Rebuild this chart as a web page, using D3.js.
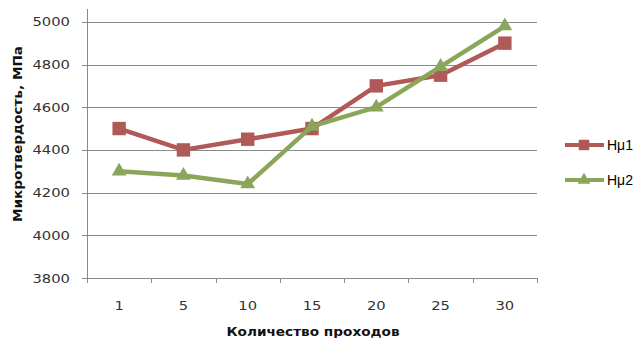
<!DOCTYPE html>
<html>
<head>
<meta charset="utf-8">
<script src="https://cdn.jsdelivr.net/npm/d3@7"></script>
<style>
  html, body { margin: 0; padding: 0; background: #fff; }
  svg { display: block; }
</style>
</head>
<body>
<svg id="chart" width="639" height="338"></svg>
<script>
// Microhardness vs. number of passes
const passes = ["1", "5", "10", "15", "20", "25", "30"];
const hmu1 = [4500, 4400, 4450, 4500, 4700, 4750, 4900];
const hmu2 = [4300, 4280, 4240, 4510, 4600, 4790, 4980];
const yTicks = [3800, 4000, 4200, 4400, 4600, 4800, 5000];
const seriesNames = ["Hμ1", "Hμ2"];
const seriesColors = ["#b05a58", "#8aa65a"];

const svg = d3.select("#chart");
const plotLeft = 87, plotRight = 537, plotTop = 9, plotBottom = 278;
const tickFont = "DejaVu Sans, Verdana, sans-serif";
const wide = 1.18; // horizontal stretch of axis texts

const x = d3.scaleBand().domain(passes).range([plotLeft, plotRight]).padding(0);
const y = d3.scaleLinear().domain([3800, 5060]).range([plotBottom, plotTop]);

// horizontal gridlines
svg.append("g")
  .selectAll("line")
  .data(yTicks)
  .join("line")
  .attr("x1", plotLeft - 5).attr("x2", plotRight)
  .attr("y1", d => Math.round(y(d)) + 0.5).attr("y2", d => Math.round(y(d)) + 0.5)
  .attr("stroke", "#8a8a8a").attr("stroke-width", 1);

// y axis line
svg.append("line")
  .attr("x1", plotLeft + 0.5).attr("x2", plotLeft + 0.5)
  .attr("y1", plotTop).attr("y2", plotBottom + 5)
  .attr("stroke", "#8a8a8a");

// x tick marks at band boundaries
const bounds = passes.map(p => x(p)).concat([plotRight]);
svg.append("g")
  .selectAll("line")
  .data(bounds)
  .join("line")
  .attr("x1", d => Math.round(d) + 0.5).attr("x2", d => Math.round(d) + 0.5)
  .attr("y1", plotBottom).attr("y2", plotBottom + 5)
  .attr("stroke", "#8a8a8a");

// y tick labels
svg.append("g")
  .selectAll("text")
  .data(yTicks)
  .join("text")
  .attr("transform", d => `translate(${plotLeft - 17},${y(d)}) scale(${wide},1)`)
  .attr("dy", "0.36em")
  .attr("text-anchor", "end")
  .attr("font-family", tickFont)
  .attr("font-size", 12.5)
  .attr("fill", "#333")
  .text(d => d);

// x tick labels
svg.append("g")
  .selectAll("text")
  .data(passes)
  .join("text")
  .attr("transform", d => `translate(${x(d) + x.bandwidth() / 2},310) scale(${wide},1)`)
  .attr("text-anchor", "middle")
  .attr("font-family", tickFont)
  .attr("font-size", 12.5)
  .attr("fill", "#333")
  .text(d => d);

// axis titles
svg.append("text")
  .attr("transform", `translate(313,336) scale(1.05,1)`)
  .attr("text-anchor", "middle")
  .attr("font-family", tickFont)
  .attr("font-weight", "bold")
  .attr("font-size", 13)
  .attr("fill", "#111")
  .text("Количество проходов");

svg.append("text")
  .attr("transform", "translate(22,134) rotate(-90) scale(1.05,1)")
  .attr("text-anchor", "middle")
  .attr("font-family", tickFont)
  .attr("font-weight", "bold")
  .attr("font-size", 13)
  .attr("fill", "#111")
  .text("Микротвердость, МПа");

const line = d3.line()
  .x((d, i) => x(passes[i]) + x.bandwidth() / 2)
  .y(d => y(d));

const square = d3.symbol().type(d3.symbolSquare).size(180);
const triangle = d3.symbol().type(d3.symbolTriangle).size(95);

const series = [
  { name: seriesNames[0], values: hmu1, color: seriesColors[0], sym: square },
  { name: seriesNames[1], values: hmu2, color: seriesColors[1], sym: triangle }
];

series.forEach(s => {
  svg.append("path")
    .attr("d", line(s.values))
    .attr("fill", "none")
    .attr("stroke", s.color)
    .attr("stroke-width", 4.5)
    .attr("stroke-linejoin", "round");
  svg.append("g")
    .selectAll("path")
    .data(s.values)
    .join("path")
    .attr("transform", (d, i) => `translate(${x(passes[i]) + x.bandwidth() / 2},${y(d)})`)
    .attr("d", s.sym())
    .attr("fill", s.color);
});

// legend
const legend = svg.append("g");
series.forEach((s, i) => {
  const ly = 145 + i * 35;
  legend.append("line")
    .attr("x1", 565).attr("x2", 604)
    .attr("y1", ly).attr("y2", ly)
    .attr("stroke", s.color).attr("stroke-width", 4);
  legend.append("path")
    .attr("transform", `translate(584,${ly})`)
    .attr("d", s.sym.size(i === 0 ? 110 : 70)())
    .attr("fill", s.color);
  legend.append("text")
    .attr("x", 607).attr("y", ly)
    .attr("dy", "0.35em")
    .attr("font-family", "Liberation Sans, Arial, sans-serif")
    .attr("font-size", 14)
    .attr("fill", "#000")
    .text(s.name);
});
</script>
</body>
</html>
